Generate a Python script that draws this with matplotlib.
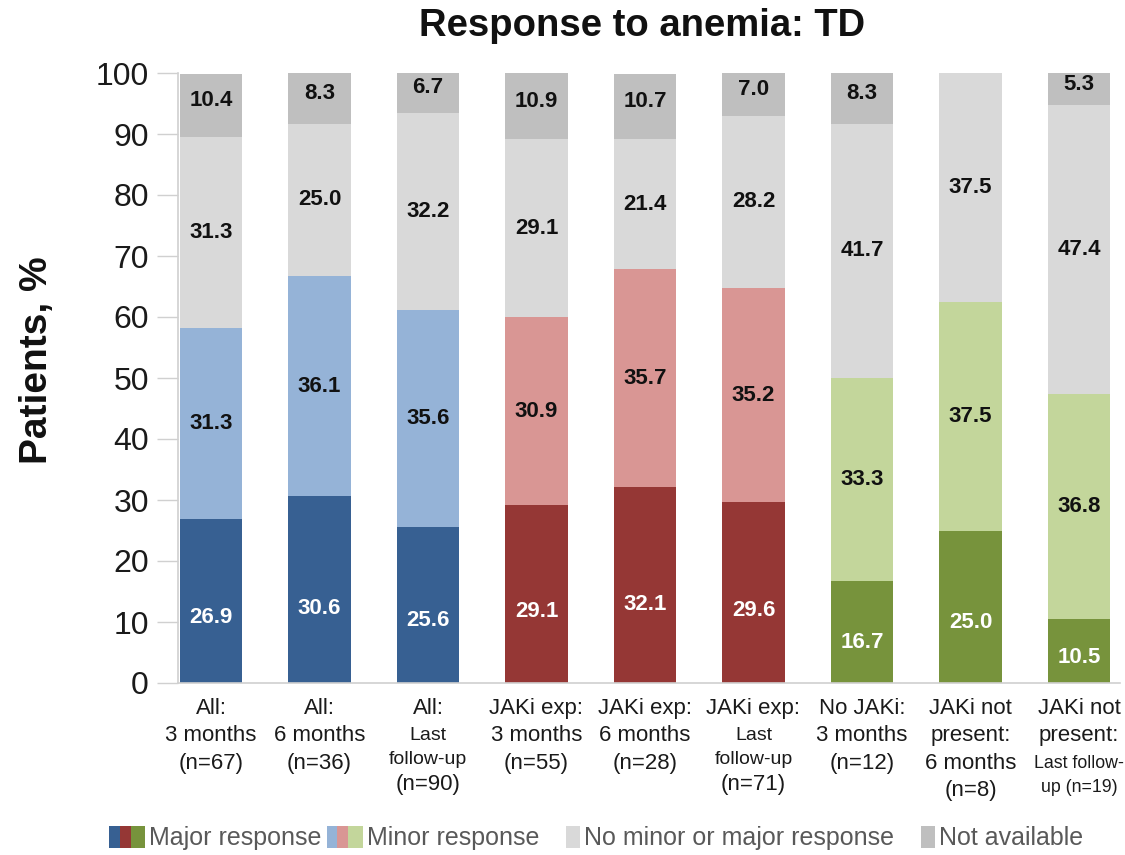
import matplotlib
matplotlib.use("Agg")
import matplotlib.pyplot as plt
from matplotlib.patches import Patch, Rectangle
from matplotlib.legend_handler import HandlerTuple, HandlerPatch
import matplotlib.transforms as mtransforms
import numpy as np

plt.rcParams['font.family'] = ['Liberation Sans', 'DejaVu Sans']

categories = [
    "All:\n3 months\n(n=67)",
    "All:\n6 months\n(n=36)",
    "All:\nLast\nfollow-up\n(n=90)",
    "JAKi exp:\n3 months\n(n=55)",
    "JAKi exp:\n6 months\n(n=28)",
    "JAKi exp:\nLast\nfollow-up\n(n=71)",
    "No JAKi:\n3 months\n(n=12)",
    "JAKi not\npresent:\n6 months\n(n=8)",
    "JAKi not\npresent:\nLast follow-\nup (n=19)",
]
major = [26.9, 30.6, 25.6, 29.1, 32.1, 29.6, 16.7, 25.0, 10.5]
minor = [31.3, 36.1, 35.6, 30.9, 35.7, 35.2, 33.3, 37.5, 36.8]
no_response = [31.3, 25.0, 32.2, 29.1, 21.4, 28.2, 41.7, 37.5, 47.4]
not_available = [10.4, 8.3, 6.7, 10.9, 10.7, 7.0, 8.3, 0.0, 5.3]
series_names = ["Major response", "Minor response",
                "No minor or major response", "Not available"]

major_colors = ["#376092", "#953735", "#77933C"]
minor_colors = ["#95B3D7", "#D99694", "#C3D69B"]
none_color = "#D9D9D9"
na_color = "#BFBFBF"
group_of = [0, 0, 0, 1, 1, 1, 2, 2, 2]

W, H = 1125, 855
fig = plt.figure(figsize=(W / 100, H / 100), dpi=100)
ax = fig.add_axes([178 / W, 1 - 683 / H, (1120 - 178) / W, (683 - 73) / H])

x = np.arange(len(categories))
bw = 0.58
mc = [major_colors[g] for g in group_of]
nc = [minor_colors[g] for g in group_of]
b0 = np.zeros(len(x))
ax.bar(x, major, bw, bottom=b0, color=mc, zorder=2)
b1 = b0 + np.array(major)
ax.bar(x, minor, bw, bottom=b1, color=nc, zorder=2)
b2 = b1 + np.array(minor)
ax.bar(x, no_response, bw, bottom=b2, color=none_color, zorder=2)
b3 = b2 + np.array(no_response)
ax.bar(x, not_available, bw, bottom=b3, color=na_color, zorder=2)

lab_kw = dict(ha='center', va='center', fontsize=16, fontweight='bold', zorder=3)
for i in x:
    ax.text(i, max(major[i] / 2 * 0.8, 3.6), f"{major[i]:.1f}", color='white', **lab_kw)
    ax.text(i, b1[i] + minor[i] / 2, f"{minor[i]:.1f}", color='#111111', **lab_kw)
    ax.text(i, b2[i] + no_response[i] / 2, f"{no_response[i]:.1f}", color='#111111', **lab_kw)
    if not_available[i] > 0:
        ax.text(i, b3[i] + not_available[i] / 2 + 0.8, f"{not_available[i]:.1f}",
                color='#111111', **lab_kw)

ax.set_xlim(-0.304, 8.378)
ax.set_ylim(0, 100)
ax.set_yticks(np.arange(0, 101, 10))
ax.tick_params(axis='y', labelsize=23, length=15, width=1, color='#D0D0D0',
               pad=6, labelcolor='#1a1a1a')
ax.set_xticks([])
for s in ['top', 'right']:
    ax.spines[s].set_visible(False)
for s in ['left', 'bottom']:
    ax.spines[s].set_color('#D0D0D0')
    ax.spines[s].set_linewidth(1.2)

# x category labels
trans = mtransforms.blended_transform_factory(ax.transData, fig.transFigure)
for i, cat in enumerate(categories):
    ypx = 708
    for line in cat.split("\n"):
        small = ("Last" in line) or ("follow" in line) or line.startswith("up")
        tiny = ("follow-" == line[-7:]) or line.startswith("up")
        size = 12.8 if tiny else (14 if small else 16)
        ax.text(i, 1 - ypx / H, line, transform=trans, ha='center', va='center',
                fontsize=size, color='#1a1a1a', clip_on=False)
        ypx += 24.5 if small else 27.5

fig.text(642 / W, 1 - 26 / H, "Response to anemia: TD", ha='center', va='center',
         fontsize=27.5, fontweight='bold', color='#111111')
fig.text(37 / W, 1 - 360 / H, "Patients, %", ha='center', va='center', rotation=90,
         fontsize=28, fontweight='bold', color='#111111')


def narrow_patch(legend, orig_handle, xdescent, ydescent, width, height, fontsize):
    w = height * 0.65
    return Rectangle((-xdescent + width - w, -ydescent), w, height)


handles = [
    tuple(Patch(facecolor=c, edgecolor='none') for c in major_colors),
    tuple(Patch(facecolor=c, edgecolor='none') for c in minor_colors),
    Patch(facecolor=none_color, edgecolor='none'),
    Patch(facecolor=na_color, edgecolor='none'),
]
leg = fig.legend(handles, series_names, loc='center', bbox_to_anchor=(598 / W, 1 - 838 / H),
                 ncol=4, frameon=False,
                 handler_map={tuple: HandlerTuple(ndivide=None, pad=0),
                              Patch: HandlerPatch(patch_func=narrow_patch)},
                 handlelength=1.3, handleheight=1.0, handletextpad=0.15, columnspacing=0.35,
                 borderaxespad=0, borderpad=0,
                 prop={'size': 18})
for t in leg.get_texts():
    t.set_color('#595959')

fig.savefig("out.png", dpi=100)
